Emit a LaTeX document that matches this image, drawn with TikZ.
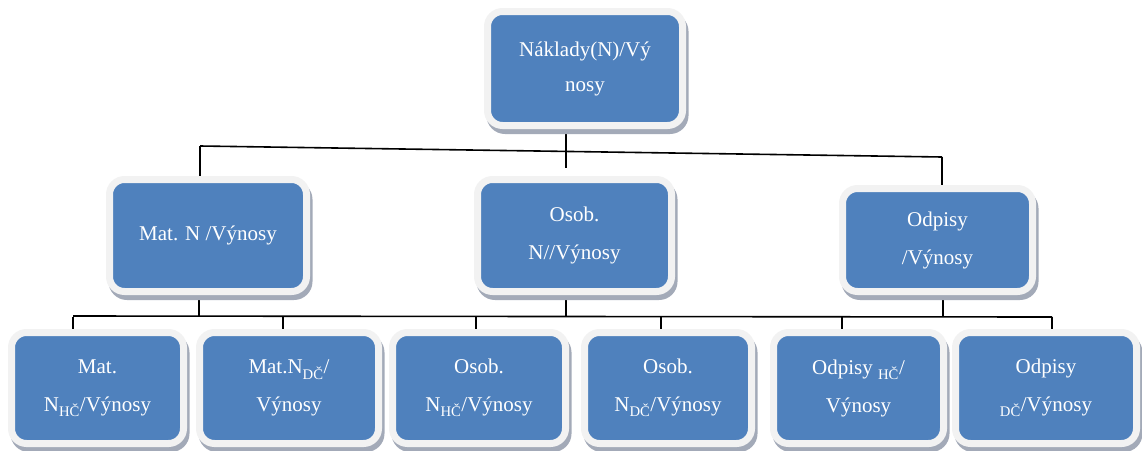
\documentclass[tikz,border=0pt]{standalone}
\usepackage{fontspec}
\setmainfont{Liberation Serif}
\usetikzlibrary{positioning,shadows,backgrounds}

\definecolor{boxblue}{RGB}{79,129,189}
\definecolor{framegray}{RGB}{242,242,242}
\definecolor{shadegray}{RGB}{163,170,184}

\begin{document}
\begin{tikzpicture}[
    %–––– GLOBAL STYLE TWEAKS ––––
    x=1pt, y=-1pt,                                   % pixel-like grid, y down
    font=\fontsize{21}{38}\selectfont,
    box/.style = {rectangle, rounded corners=15pt, align=center,
                  fill=boxblue, draw=framegray, line width=7pt,
                  text=white, inner sep=0pt,
                  general shadow={fill=shadegray, draw=shadegray,
                                  shadow xshift=2.5pt, shadow yshift=-5pt}},
    link/.style = {draw=black, line width=1.6pt},
]
\useasboundingbox (0,0) rectangle (1142,450);

%–––– TOP ––––
\node (naklady) [box, minimum width=195pt, minimum height=114pt,
                 font=\fontsize{21}{35}\selectfont] at (585,68.5) {Náklady(N)/Vý\\nosy};

%–––– MIDDLE ROW ––––
\node (mat)    [box, minimum width=197pt, minimum height=112pt] at (208,235.5)   {Mat. N /Výnosy};
\node (osob)   [box, minimum width=194pt, minimum height=112pt] at (574.5,235.5) {Osob.\\N//Výnosy};
\node (odpisy) [box, minimum width=190pt, minimum height=103pt] at (937.5,240)   {Odpisy\\/Výnosy};

%–––– BOTTOM ROW ––––
\node (mat_hc)    [box, minimum width=172pt, minimum height=111pt] at (97.5,388)  {Mat.\\N\textsubscript{HČ}/Výnosy};
\node (mat_dc)    [box, minimum width=179pt, minimum height=111pt] at (289,388)   {Mat.N\textsubscript{DČ}/\\Výnosy};
\node (osob_hc)   [box, minimum width=173pt, minimum height=111pt] at (479,388)   {Osob.\\N\textsubscript{HČ}/Výnosy};
\node (osob_dc)   [box, minimum width=167pt, minimum height=111pt] at (668,388)   {Osob.\\N\textsubscript{DČ}/Výnosy};
\node (odpisy_hc) [box, minimum width=170pt, minimum height=111pt] at (858.5,388) {Odpisy \textsubscript{HČ}/\\Výnosy};
\node (odpisy_dc) [box, minimum width=181pt, minimum height=111pt] at (1046,388)  {Odpisy\\\textsubscript{DČ}/Výnosy};

%–––– CONNECTORS ––––
\coordinate (top_stem)  at (566,168);
\coordinate (top_bus_l) at (200,146);
\coordinate (top_bus_r) at (942,157);
\coordinate (low_bus_l) at (73,316);
\coordinate (low_bus_r) at (1052,317);

\begin{scope}[on background layer]
  \draw[link] (naklady.south -| top_stem) -- (top_stem);
  \draw[link] (top_bus_l) -- (top_bus_r);
  \draw[link] (top_bus_l) -- (top_bus_l |- mat.north);
  \draw[link] (top_bus_r) -- (top_bus_r |- odpisy.north);

  \foreach \n/\x in {mat/199, osob/566, odpisy/943} {
    \coordinate (\n_stem) at (\x,316.5);
    \draw[link] (\n.south -| \n_stem) -- (\n_stem);
  }
  \draw[link] (low_bus_l) -- (low_bus_r);

  \foreach \n/\x in {mat_hc/73, mat_dc/283, osob_hc/476,
                     osob_dc/661, odpisy_hc/842, odpisy_dc/1052} {
    \coordinate (\n_drop) at (\x,316.5);
    \draw[link] (\n_drop) -- (\n_drop |- \n.north);
  }
\end{scope}
\end{tikzpicture}
\end{document}
